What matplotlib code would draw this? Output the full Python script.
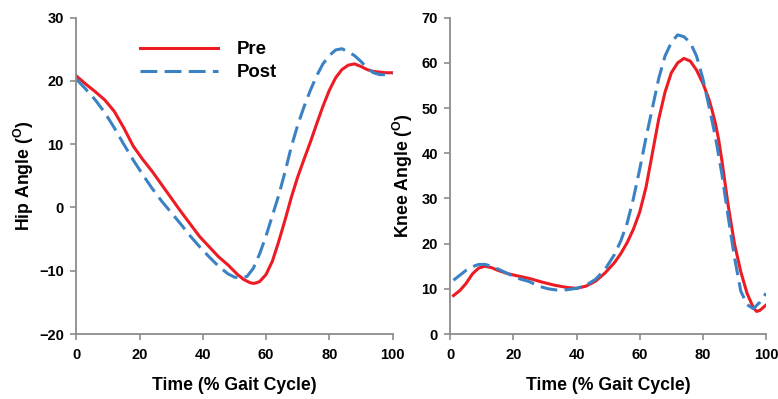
import matplotlib
matplotlib.use("Agg")
import matplotlib.pyplot as plt

plt.rcParams["font.family"] = ["Liberation Sans", "DejaVu Sans"]
plt.rcParams["font.weight"] = "bold"
plt.rcParams["mathtext.fontset"] = "custom"
plt.rcParams["mathtext.rm"] = "Liberation Sans:bold"
plt.rcParams["mathtext.bf"] = "Liberation Sans:bold"

# Hip angle (deg) vs % gait cycle
hip_pre_x = [0, 3, 6, 9, 12, 15, 18, 21, 24, 27, 30, 33, 36, 39, 42, 45, 48, 51, 53, 55, 56, 57, 58, 60, 62,
             64, 66, 68, 70, 72, 74, 76, 78, 80, 82, 84, 86, 88, 90, 92, 94, 96, 98, 100]
hip_pre_y = [20.8, 19.5, 18.3, 17.0, 15.2, 12.6, 9.7, 7.6, 5.7, 3.6, 1.5, -0.6, -2.6, -4.6, -6.2, -7.8, -9.1,
             -10.6, -11.4, -11.9, -12.0, -11.9, -11.7, -10.6, -8.5, -5.4, -2.0, 1.6, 4.8, 7.6, 10.3, 13.2,
             16.0, 18.5, 20.5, 21.8, 22.5, 22.7, 22.3, 21.8, 21.5, 21.4, 21.3, 21.3]
hip_post_x = [0, 3, 6, 9, 12, 15, 18, 21, 24, 27, 30, 33, 36, 39, 42, 45, 48, 50, 52, 54, 56, 58, 60, 62, 64,
              66, 68, 70, 72, 74, 76, 78, 80, 82, 84, 86, 88, 90, 92, 94, 96, 98, 100]
hip_post_y = [20.3, 18.7, 17.0, 15.0, 12.6, 10.0, 7.5, 5.2, 3.0, 1.0, -0.8, -2.6, -4.5, -6.2, -7.8, -9.3,
              -10.5, -11.0, -11.2, -10.9, -9.6, -7.3, -4.5, -1.3, 1.9, 5.6, 9.6, 13.0, 15.9, 18.5, 20.8, 22.7,
              24.0, 24.9, 25.1, 24.6, 24.0, 23.1, 22.0, 21.3, 21.0, 21.0, 21.2]

# Knee angle (deg) vs % gait cycle
knee_pre_x = [1, 3, 5, 7, 9, 11, 13, 15, 18, 21, 25, 29, 33, 37, 40, 43, 46, 49, 52, 54, 56, 58, 60, 62, 64,
              66, 68, 70, 72, 74, 76, 78, 80, 82, 83, 84, 85, 86, 87, 88, 90, 92, 94, 96, 97, 98, 100]
knee_pre_y = [8.5, 9.6, 11.2, 13.3, 14.6, 15.0, 14.7, 14.1, 13.4, 12.9, 12.3, 11.5, 10.8, 10.3, 10.1, 10.6,
              11.7, 13.5, 15.8, 17.8, 20.2, 23.2, 27.0, 32.5, 40.0, 47.5, 53.5, 57.8, 60.0, 61.0, 60.4, 58.4,
              55.5, 51.8, 49.3, 46.5, 43.0, 38.5, 33.5, 28.5, 20.0, 13.8, 9.0, 5.8, 5.0, 5.2, 6.4]
knee_post_x = [1, 3, 5, 7, 9, 11, 13, 16, 19, 22, 25, 28, 31, 34, 37, 40, 43, 46, 49, 52, 54, 56, 58, 60, 62,
               64, 66, 68, 70, 72, 74, 76, 78, 80, 82, 84, 86, 88, 90, 92, 94, 96, 98, 100]
knee_post_y = [11.9, 13.0, 14.1, 14.9, 15.4, 15.4, 15.0, 14.1, 13.1, 12.2, 11.6, 10.6, 10.0, 9.7, 9.8, 10.1,
               10.8, 12.1, 14.3, 17.6, 20.6, 24.5, 30.0, 36.5, 43.5, 50.0, 56.5, 61.5, 64.5, 66.2, 65.8, 64.5,
               61.5, 56.5, 50.2, 43.5, 35.5, 26.0, 17.0, 9.5, 6.5, 5.6, 7.0, 9.0]

RED = "#ED1C24"
BLUE = "#3B82C4"
GRAY = "#8C8C8C"

fig = plt.figure(figsize=(7.78, 3.99), dpi=100)
ax1 = fig.add_axes([0.0981, 0.1629, 0.4064, 0.7927])
ax2 = fig.add_axes([0.5788, 0.1629, 0.4058, 0.7927])


def style(ax):
    for side in ("top", "right"):
        ax.spines[side].set_visible(False)
    for side in ("left", "bottom"):
        ax.spines[side].set_color(GRAY)
        ax.spines[side].set_linewidth(1.3)
    ax.tick_params(axis="both", direction="out", length=4, width=1.2, color=GRAY,
                   labelsize=10.5, labelcolor="black")
    ax.tick_params(axis="x", pad=6)
    ax.tick_params(axis="y", pad=5)
    for lab in ax.get_xticklabels() + ax.get_yticklabels():
        lab.set_fontweight("bold")
    ax.set_xlim(0, 100)
    ax.set_xticks([0, 20, 40, 60, 80, 100])


ax1.plot(hip_pre_x, hip_pre_y, color=RED, lw=2.2, label="Pre")
ax1.plot(hip_post_x, hip_post_y, color=BLUE, lw=2.2, dashes=(5.5, 2.4), label="Post")
ax1.set_ylim(-20, 30)
ax1.set_yticks([-20, -10, 0, 10, 20, 30])
style(ax1)
ax1.set_xlabel("Time (% Gait Cycle)", fontsize=12.7, fontweight="bold")
ax1.set_ylabel(r"Hip Angle ($^{\mathrm{O}}$)", fontsize=12.7, fontweight="bold")
ax1.xaxis.set_label_coords(0.5, -0.135)
ax1.yaxis.set_label_coords(-0.128, 0.5)
ax1.legend(loc="upper left", bbox_to_anchor=(0.2, 0.925), frameon=False,
           handlelength=4.2, handletextpad=1.0, labelspacing=0.3, borderpad=0, borderaxespad=0,
           prop={"weight": "bold", "size": 13.4})

ax2.plot(knee_pre_x, knee_pre_y, color=RED, lw=2.2)
ax2.plot(knee_post_x, knee_post_y, color=BLUE, lw=2.2, dashes=(5.5, 2.4))
ax2.set_ylim(0, 70)
ax2.set_yticks([0, 10, 20, 30, 40, 50, 60, 70])
style(ax2)
ax2.set_xlabel("Time (% Gait Cycle)", fontsize=12.7, fontweight="bold")
ax2.set_ylabel(r"Knee Angle ($^{\mathrm{O}}$)", fontsize=12.7, fontweight="bold")
ax2.xaxis.set_label_coords(0.5, -0.135)
ax2.yaxis.set_label_coords(-0.112, 0.5)

fig.savefig("out.png", dpi=100)
